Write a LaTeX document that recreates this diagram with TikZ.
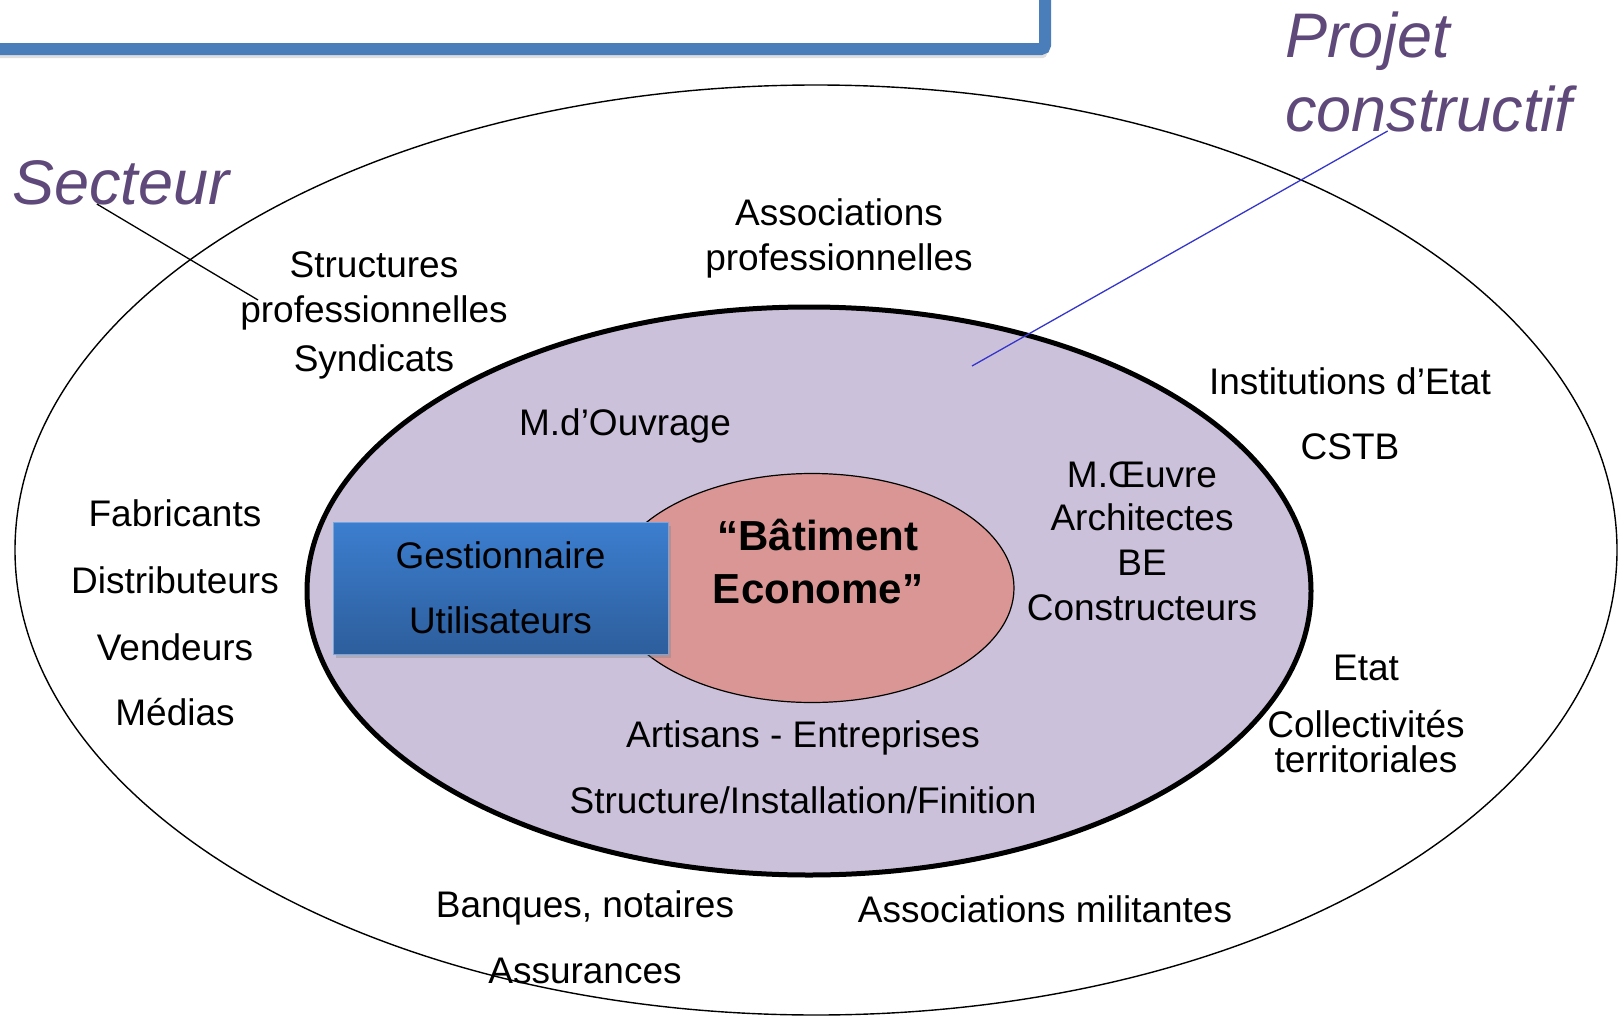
\documentclass[tikz,border=0pt]{standalone}
\usepackage{fontspec}
\setmainfont{Liberation Sans}
\usetikzlibrary{shapes.geometric,shadows,calc}

\definecolor{lavande}{HTML}{CCC1DA}
\definecolor{saumon}{HTML}{D99694}
\definecolor{violet}{HTML}{5F497A}
\definecolor{cadre}{HTML}{4A7EBB}
\definecolor{bleuhaut}{HTML}{3C7ECF}
\definecolor{bleubas}{HTML}{2D5E9C}
\definecolor{trait}{HTML}{3535CC}

\tikzset{
    lbl/.style={font=\fontsize{37}{44}\selectfont, anchor=base, inner sep=0pt},
    titre/.style={font=\fontsize{63}{74}\selectfont\itshape, text=violet, anchor=base west, inner sep=0pt},
    zone/.style={ellipse, draw, inner sep=0pt},
}

\begin{document}
\begin{tikzpicture}[x=1pt,y=-1pt]
    \useasboundingbox (0,0) rectangle (1618,1017);

    % Title frame (cut off at the top)
    \draw[cadre, line width=12pt, fill=white, rounded corners=4pt,
        drop shadow={shadow xshift=2pt, shadow yshift=-9pt, opacity=0.25}]
        (-40,-40) rectangle (1045,49);

    % Ellipses
    \node[zone, line width=1.4pt, minimum width=1602pt, minimum height=930pt] (secteurZone) at (816,550) {};
    \node[zone, line width=5pt, fill=lavande, minimum width=1004pt, minimum height=568pt] (projetZone) at (809,591) {};
    \node[zone, line width=1.2pt, fill=saumon, minimum width=404pt, minimum height=229pt] (batiment) at (812,588) {};

    % Gestionnaire box
    \node[rectangle, minimum width=335pt, minimum height=132pt, top color=bleuhaut, bottom color=bleubas,
        draw=bleuhaut!70!white, line width=1pt,
        drop shadow={shadow xshift=3pt, shadow yshift=-4pt, opacity=0.35}] (gestion) at (500.5,588) {};

    % Titles
    \node[titre] (secteur) at (12,204) {Secteur};
    \node[titre] (projet1) at (1285,57) {Projet};
    \node[titre] (projet2) at (1285,131) {constructif};

    % Outer labels
    \foreach \y/\txt [count=\i] in {225/Associations, 270/professionnelles}
        \node[lbl] (asso\i) at (839,\y) {\txt};
    \foreach \y/\txt [count=\i] in {277/Structures, 322/professionnelles, 371/Syndicats}
        \node[lbl] (struct\i) at (374,\y) {\txt};
    \foreach \y/\txt [count=\i] in {394/Institutions d’Etat, 459/CSTB}
        \node[lbl] (inst\i) at (1350,\y) {\txt};
    \foreach \y/\txt [count=\i] in {526/Fabricants, 593/Distributeurs, 660/Vendeurs, 725/Médias}
        \node[lbl] (fab\i) at (175,\y) {\txt};
    \foreach \y/\txt [count=\i] in {680/Etat, 737/Collectivités, 772/territoriales}
        \node[lbl] (etat\i) at (1366,\y) {\txt};
    \foreach \y/\txt [count=\i] in {917/{Banques, notaires}, 983/Assurances}
        \node[lbl] (banq\i) at (585,\y) {\txt};
    \node[lbl] (milit) at (1045,922) {Associations militantes};

    % Inner labels
    \node[lbl] (mouv) at (625,435) {M.d’Ouvrage};
    \foreach \y/\txt [count=\i] in {487/M.Œuvre, 530/Architectes, 575/BE, 620/Constructeurs}
        \node[lbl] (moe\i) at (1142,\y) {\txt};
    \foreach \y/\txt [count=\i] in {568/Gestionnaire, 633/Utilisateurs}
        \node[lbl] (gest\i) at (500.5,\y) {\txt};
    \foreach \y/\txt [count=\i] in {747/{Artisans - Entreprises}, 813/{Structure/Installation/Finition}}
        \node[lbl] (art\i) at (803,\y) {\txt};
    \foreach \y/\txt [count=\i] in {550/“Bâtiment, 603/Econome”}
        \node[lbl, font=\fontsize{42}{50}\selectfont\bfseries] (bat\i) at (818,\y) {\txt};

    % Pointer lines
    \coordinate (secteurPt) at (258,300);
    \coordinate (projetPt) at (972,366);
    \draw[line width=1.3pt] ($(secteur.base west)!0.39!(secteur.base east)$) -- (secteurPt);
    \draw[trait, line width=1.3pt] ($(projet2.base west)!0.357!(projet2.base east)$) -- (projetPt);
\end{tikzpicture}
\end{document}
